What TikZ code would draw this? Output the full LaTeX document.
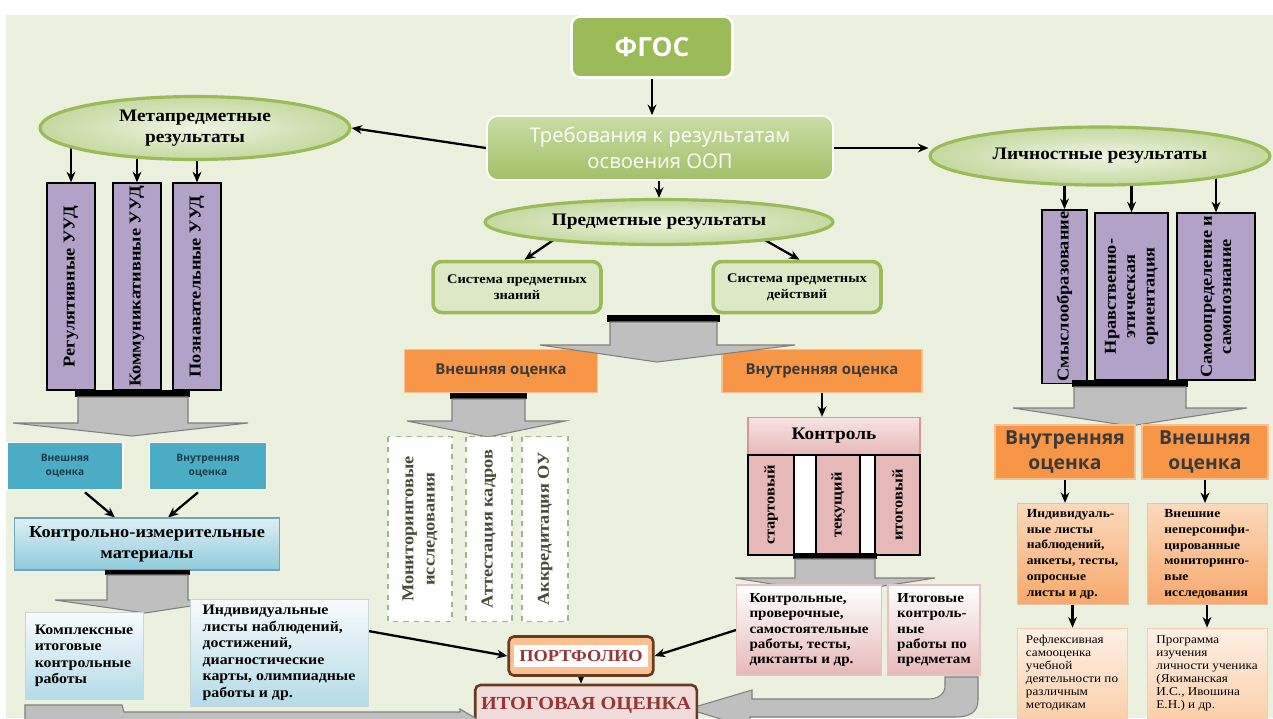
\documentclass[tikz,border=0pt]{standalone}
\usepackage{fontspec}
\setmainfont{Liberation Serif}[FakeStretch=1.1]
\newfontfamily\sansfont{Open Sans}
\usetikzlibrary{shapes.geometric,arrows.meta,calc}

\newcommand\setfs[2]{\fontsize{#1}{#2}\selectfont}

\definecolor{bgcol}{HTML}{EBF1DE}
\definecolor{fgosg}{HTML}{9BBB59}
\definecolor{trebtop}{HTML}{C9DCA6}
\definecolor{trebbot}{HTML}{A2C066}
\definecolor{olive}{HTML}{9BBB59}
\definecolor{ovin}{HTML}{EEF4E2}
\definecolor{ovout}{HTML}{C5D9A0}
\definecolor{sysf}{HTML}{DCE8C6}
\definecolor{orA}{HTML}{F79646}
\definecolor{orL}{HTML}{FAC090}
\definecolor{txtd}{HTML}{3A3A3A}
\definecolor{lav}{HTML}{B3A2C7}
\definecolor{dashc}{HTML}{A3B487}
\definecolor{txtg}{HTML}{4A4A3A}
\definecolor{pinkl}{HTML}{F6E4E3}
\definecolor{pinkm}{HTML}{E6B9B8}
\definecolor{pinkd}{HTML}{D99694}
\definecolor{tealb}{HTML}{4BACC6}
\definecolor{tealt}{HTML}{1F3A48}
\definecolor{kimtop}{HTML}{DDF0F6}
\definecolor{kimbot}{HTML}{8FCADB}
\definecolor{kimd}{HTML}{6FA8BC}
\definecolor{ltop}{HTML}{F7FBFD}
\definecolor{lbot}{HTML}{B4DBE7}
\definecolor{peach}{HTML}{FCD9BC}
\definecolor{orange2}{HTML}{F7A86C}
\definecolor{peachl}{HTML}{FEF0E4}
\definecolor{peachm}{HTML}{FBD0AC}
\definecolor{peachP}{HTML}{FAC090}
\definecolor{brownd}{HTML}{6B3A1E}
\definecolor{darkred}{HTML}{953735}
\definecolor{itfill}{HTML}{F2DCDB}
\definecolor{greyf}{HTML}{BFBFBF}
\definecolor{greyd}{HTML}{7F7F7F}

\pgfdeclarelayer{back}
\pgfdeclarelayer{links}
\pgfsetlayers{back,links,main}

\tikzset{
  arr/.style={-{Stealth[length=6pt,width=5pt]}, line width=1.3pt},
  fgosbox/.style={rounded corners=5pt, fill=fgosg, draw=white, line width=1.5pt, text=white, font=\sansfont\bfseries\setfs{15}{18}},
  trebbox/.style={rounded corners=6pt, top color=trebtop, bottom color=trebbot, draw=white, line width=1pt, text=white, align=center, font=\sansfont\setfs{11.5}{15}},
  oval/.style={ellipse, draw=olive, line width=1.8pt, inner color=ovin, outer color=ovout, inner sep=0pt, align=center, font=\bfseries\setfs{10}{12}},
  sysbox/.style={rounded corners=5pt, fill=sysf, draw=olive, line width=2pt, align=center, font=\bfseries\setfs{7.5}{9}},
  orbox/.style={fill=orA, draw=orL, line width=1pt, text=txtd, align=center, font=\sansfont\bfseries\setfs{8.5}{10}},
  orbig/.style={orbox, font=\sansfont\bfseries\setfs{11}{14}},
  ucol/.style={rotate=90, fill=lav, draw=black, line width=0.8pt, inner sep=1pt, align=center, font=\bfseries\setfs{9.5}{11}},
  dbox/.style={rotate=90, fill=white, draw=dashc, dashed, line width=0.8pt, align=center, text=txtg, font=\bfseries\setfs{9.5}{12}},
  pinkbox/.style={top color=pinkl, bottom color=pinkm, draw=pinkd, line width=0.8pt, font=\bfseries\setfs{10}{12}},
  pcol/.style={rotate=90, fill=pinkm, draw=black, line width=0.8pt, inner sep=1pt, font=\bfseries\setfs{8.5}{10}},
  pwork/.style={top color=white, bottom color=pinkm, draw=pinkd!60, line width=0.6pt, align=left, font=\bfseries\setfs{7.8}{8.6}},
  bluebox/.style={fill=tealb, draw=white, line width=1pt, text=tealt, align=center, font=\sansfont\bfseries\setfs{5.8}{8}},
  kimbox/.style={top color=kimtop, bottom color=kimbot, draw=kimd, line width=0.6pt, align=center, font=\bfseries\setfs{9.5}{12}},
  lbox/.style={top color=ltop, bottom color=lbot, draw=lbot!70!black!40, line width=0.5pt, align=left, font=\bfseries\setfs{8.2}{9.4}},
  obox/.style={top color=peach, bottom color=orange2, draw=orange2!80!black!50, line width=0.5pt, align=left, font=\bfseries\setfs{7}{9}},
  obox2/.style={top color=peachl, bottom color=peachm, draw=orange2!60, line width=0.5pt, align=left, font=\setfs{6.8}{7.4}},
  portbox/.style={rounded corners=3pt, fill=peachP, draw=brownd, line width=1.5pt, text=darkred, inner sep=3pt, font=\bfseries\setfs{9.5}{11}},
  itbox/.style={rounded corners=3pt, fill=itfill, draw=brownd, line width=1.5pt, text=darkred, font=\bfseries\setfs{10.5}{12}},
  greyarr/.style={fill=greyf, draw=greyd, line width=0.6pt},
}

\begin{document}
\begin{tikzpicture}[x=0.02cm,y=-0.02cm]
\useasboundingbox (0,0) rectangle (1273,718);
\clip (0,0) rectangle (1273,718);
\begin{pgfonlayer}{back}
  \fill[white] (0,0) rectangle (1273,718);
  \fill[bgcol] (6,15) rectangle (1273,718);
\end{pgfonlayer}

% top levels
\node[fgosbox, minimum width=3.22cm, minimum height=1.22cm] (fgos) at (652,47) {ФГОС};
\node[trebbox, minimum width=6.92cm, minimum height=1.28cm] (treb) at (660,148) {Требования к результатам\\освоения ООП};
\node[oval, minimum width=6.2cm, minimum height=1.26cm] (meta) at (195,128) {Метапредметные\\результаты};
\node[oval, minimum width=6.8cm, minimum height=1.16cm] (lich) at (1100,156) {Личностные результаты};
\node[oval, minimum width=6.96cm, minimum height=0.9cm] (pred) at (659,222) {Предметные результаты};

% middle branch
\node[sysbox, minimum width=3.36cm, minimum height=1.02cm] (sysz) at (517,287) {Система предметных\\знаний};
\node[sysbox, minimum width=3.36cm, minimum height=1.02cm] (sysd) at (797,287) {Система предметных\\действий};

\node[orbox, minimum width=3.86cm, minimum height=0.86cm] (outA) at (501,371) {Внешняя оценка};
\node[orbox, minimum width=4cm, minimum height=0.86cm] (innA) at (822,371) {Внутренняя оценка};

\fill (607,315) rectangle (720,322);
\draw[greyarr] (610,322) -- (717,322) -- (717,345) -- (795,345) -- (657,362) -- (540,345) -- (610,345) -- cycle;

\fill (450,393) rectangle (527,399);
\draw[greyarr] (452,399) -- (525,399) -- (525,421) -- (565,421) -- (488,437) -- (407,421) -- (452,421) -- cycle;

\node[dbox, minimum width=3.7cm, minimum height=1.28cm] (mon) at (420,529) {Мониторинговые\\исследования};
\node[dbox, minimum width=3.7cm, minimum height=0.92cm] (att) at (489,529) {Аттестация кадров};
\node[dbox, minimum width=3.7cm, minimum height=0.92cm] (akk) at (545,529) {Аккредитация ОУ};

\node[pinkbox, minimum width=3.44cm, minimum height=0.74cm] (kontr) at (834,436) {Контроль};
\node[draw, fill=white, line width=0.8pt, minimum width=3.44cm, minimum height=2cm] (kframe) at (834,505) {};
\node[pcol, minimum width=2cm, minimum height=0.92cm] (start) at (771,505) {стартовый};
\node[pcol, minimum width=2cm, minimum height=0.88cm] (tek) at (838,505) {текущий};
\node[pcol, minimum width=2cm, minimum height=0.9cm] (itog) at (897.5,505) {итоговый};

\fill (793,553) rectangle (877,559);
\draw[greyarr] (795,559) -- (875,559) -- (875,578) -- (935,578) -- (832,594) -- (735,578) -- (795,578) -- cycle;

\node[pwork, minimum width=2.9cm, minimum height=1.8cm] (kontrw) at (809,630) {Контрольные,\\проверочные,\\самостоятельные\\работы, тесты,\\диктанты и др.};
\node[pwork, minimum width=1.84cm, minimum height=1.8cm] (itogw) at (934,630) {Итоговые\\контроль-\\ные\\работы по\\предметам};

\draw[greyarr] (978,677) -- (978,700) .. controls (978,712) and (970,717) .. (955,717) -- (750,717) -- (750,728) -- (688,709) -- (752,690) -- (752,699) -- (928,699) .. controls (938,699) and (945,694) .. (945,686) -- (945,677) -- cycle;

\node[portbox, minimum width=2.56cm, minimum height=0.78cm] (portf) at (581,656) {\colorbox{white}{ПОРТФОЛИО}};
\node[itbox, minimum width=4.16cm, minimum height=0.8cm] (itogo) at (586,705) {ИТОГОВАЯ ОЦЕНКА};

% left branch
\node[ucol, minimum width=4.14cm, minimum height=0.96cm] (reg) at (71,286.5) {Регулятивные УУД};
\node[ucol, minimum width=4.14cm, minimum height=0.96cm] (kom) at (137,286.5) {Коммуникативные УУД};
\node[ucol, minimum width=4.14cm, minimum height=0.96cm] (poz) at (197,286.5) {Познавательные УУД};

\fill (75,390) rectangle (190,397);
\draw[greyarr] (78,397) -- (188,397) -- (188,423) -- (248,423) -- (132,436) -- (13,423) -- (78,423) -- cycle;

\node[bluebox, minimum width=2.32cm, minimum height=0.94cm] (vnesh) at (65,466) {Внешняя\\оценка};
\node[bluebox, minimum width=2.34cm, minimum height=0.94cm] (vnutr) at (208,466) {Внутренняя\\оценка};
\node[kimbox, minimum width=5.3cm, minimum height=1.04cm] (kim) at (147,544) {Контрольно-измерительные\\материалы};

\fill (105,570) rectangle (190,575);
\draw[greyarr] (107,575) -- (188,575) -- (188,600) -- (230,600) -- (145,613) -- (55,600) -- (107,600) -- cycle;

\node[lbox, minimum width=2.36cm, minimum height=1.74cm] (kompl) at (84,656) {Комплексные\\итоговые\\контрольные\\работы};
\node[lbox, minimum width=3.56cm, minimum height=2.06cm] (indiv) at (279,653) {Индивидуальные\\листы наблюдений,\\достижений,\\диагностические\\карты, олимпиадные\\работы и др.};

\draw[greyarr] (25,705) -- (122,705) -- (124,712) -- (460,712) -- (460,709) -- (482,722) -- (460,735) -- (25,735) -- cycle;

% right branch
\node[ucol, minimum width=3.34cm, minimum height=0.9cm] (smysl) at (1064.5,296.5) {Смыслообразование};
\node[ucol, minimum width=3.34cm, minimum height=1.46cm] (nrav) at (1131.5,296.5) {Нравственно-\\этическая\\ориентация};
\node[ucol, minimum width=3.34cm, minimum height=1.56cm] (samo) at (1216,296.5) {Самоопределение и\\самопознание};

\fill (1072,380) rectangle (1188,387);
\draw[greyarr] (1074,387) -- (1186,387) -- (1186,408) -- (1247,408) -- (1130,426) -- (1013,408) -- (1074,408) -- cycle;

\node[orbig, minimum width=2.8cm, minimum height=1cm] (innR) at (1065,452) {Внутренняя\\оценка};
\node[orbig, minimum width=2.52cm, minimum height=1cm] (outR) at (1205,452) {Внешняя\\оценка};
\node[obox, minimum width=2.22cm, minimum height=1.96cm] (indR) at (1072.5,554) {Индивидуаль-\\ные листы\\наблюдений,\\анкеты, тесты,\\опросные\\листы и др.};
\node[obox, minimum width=2.4cm, minimum height=1.96cm] (vnR) at (1207,554) {Внешние\\неперсонифи-\\цированные\\мониторинго-\\вые\\исследования};
\node[obox2, minimum width=2.2cm, minimum height=1.8cm] (refl) at (1072,673) {Рефлексивная\\самооценка\\учебной\\деятельности по\\различным\\методикам};
\node[obox2, minimum width=2.4cm, minimum height=1.8cm] (progr) at (1207,673) {Программа\\изучения\\личности ученика\\(Якиманская\\И.С., Ивошина\\Е.Н.) и др.};

% connectors
\begin{pgfonlayer}{links}
  \draw[arr] (fgos.south) -- (fgos.south |- treb.north);
  \draw[arr] (treb.west) -- (meta.east);
  \draw[arr] (treb.east) -- (treb.east -| lich.west);
  \draw[arr] (treb.south -| pred.north) -- (pred.north);
  \draw[arr] ([xshift=0.4cm]pred.south west) -- ([xshift=0.15cm]sysz.north);
  \draw[arr] ([xshift=-0.4cm]pred.south east) -- ([xshift=0.05cm]sysd.north);
  \draw[arr] (innA.south) -- (innA.south |- kontr.north);
  \draw[arr] (reg.east |- meta.center) -- (reg.east);
  \draw[arr] (kom.east |- meta.center) -- (kom.east);
  \draw[arr] (poz.east |- meta.center) -- (poz.east);
  \draw[arr] (smysl.east |- lich.center) -- (smysl.east);
  \draw[arr] (nrav.east |- lich.center) -- (nrav.east);
  \draw[arr] (samo.east |- lich.center) -- (samo.east);
  \draw[arr] ($(vnesh.south)+(20,2)$) -- ($(kim.north)+(-32,0)$);
  \draw[arr] ($(vnutr.south)+(-10,2)$) -- ($(kim.north)+(21,0)$);
  \draw[arr] ($(indiv.east)+(0,-22)$) -- (portf.west);
  \draw[arr] (kontrw.west) -- (portf.east);
  \draw[arr] (portf.south) -- (portf.south |- itogo.north);
  \draw[arr] (innR.south) -- (innR.south |- indR.north);
  \draw[arr] (outR.south) -- (outR.south |- vnR.north);
  \draw[arr] (indR.south) -- (indR.south |- refl.north);
  \draw[arr] (vnR.south) -- (vnR.south |- progr.north);
\end{pgfonlayer}
\end{tikzpicture}
\end{document}
